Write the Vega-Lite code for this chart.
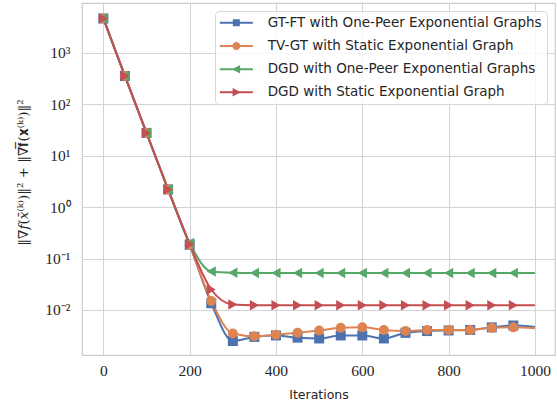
{
  "$schema": "https://vega.github.io/schema/vega-lite/v6.json",
  "width": 473,
  "height": 352,
  "autosize": {"type": "none"},
  "padding": {"left": 82, "top": 3, "right": 2, "bottom": 52},
  "background": "white",
  "config": {
    "view": {"stroke": "#cccccc", "strokeWidth": 1.2},
    "axis": {
      "grid": true, "gridColor": "#d4d4d4", "gridWidth": 1, "domain": false, "ticks": false,
      "labelColor": "#262626", "titleColor": "#262626",
      "labelFont": "Liberation Serif", "labelFontSize": 15.5
    },
    "legend": {
      "orient": "top-right", "offset": 8, "padding": 5, "cornerRadius": 4,
      "fillColor": "rgba(255,255,255,0.8)", "strokeColor": "#d6d6d6",
      "labelFont": "DejaVu Sans", "labelFontSize": 13.5, "labelColor": "#262626",
      "symbolSize": 100, "symbolOffset": 9.6, "labelOffset": 24.6, "rowPadding": 8.2, "labelLimit": 400
    }
  },
  "data": {"values": [
    {"s": "GT-FT with One-Peer Exponential Graphs", "it": 0, "v": 4600},
    {"s": "GT-FT with One-Peer Exponential Graphs", "it": 50, "v": 350},
    {"s": "GT-FT with One-Peer Exponential Graphs", "it": 100, "v": 27.5},
    {"s": "GT-FT with One-Peer Exponential Graphs", "it": 150, "v": 2.2},
    {"s": "GT-FT with One-Peer Exponential Graphs", "it": 200, "v": 0.185},
    {"s": "GT-FT with One-Peer Exponential Graphs", "it": 250, "v": 0.0135},
    {"s": "GT-FT with One-Peer Exponential Graphs", "it": 300, "v": 0.0025},
    {"s": "GT-FT with One-Peer Exponential Graphs", "it": 350, "v": 0.003},
    {"s": "GT-FT with One-Peer Exponential Graphs", "it": 400, "v": 0.0032},
    {"s": "GT-FT with One-Peer Exponential Graphs", "it": 450, "v": 0.0029},
    {"s": "GT-FT with One-Peer Exponential Graphs", "it": 500, "v": 0.0028},
    {"s": "GT-FT with One-Peer Exponential Graphs", "it": 550, "v": 0.0032},
    {"s": "GT-FT with One-Peer Exponential Graphs", "it": 600, "v": 0.0032},
    {"s": "GT-FT with One-Peer Exponential Graphs", "it": 650, "v": 0.0028},
    {"s": "GT-FT with One-Peer Exponential Graphs", "it": 700, "v": 0.0036},
    {"s": "GT-FT with One-Peer Exponential Graphs", "it": 750, "v": 0.0039},
    {"s": "GT-FT with One-Peer Exponential Graphs", "it": 800, "v": 0.004},
    {"s": "GT-FT with One-Peer Exponential Graphs", "it": 850, "v": 0.0041},
    {"s": "GT-FT with One-Peer Exponential Graphs", "it": 900, "v": 0.0046},
    {"s": "GT-FT with One-Peer Exponential Graphs", "it": 950, "v": 0.005},
    {"s": "GT-FT with One-Peer Exponential Graphs", "it": 1000, "v": 0.0047},
    {"s": "TV-GT with Static Exponential Graph", "it": 0, "v": 4600},
    {"s": "TV-GT with Static Exponential Graph", "it": 50, "v": 350},
    {"s": "TV-GT with Static Exponential Graph", "it": 100, "v": 27.5},
    {"s": "TV-GT with Static Exponential Graph", "it": 150, "v": 2.2},
    {"s": "TV-GT with Static Exponential Graph", "it": 200, "v": 0.185},
    {"s": "TV-GT with Static Exponential Graph", "it": 250, "v": 0.015},
    {"s": "TV-GT with Static Exponential Graph", "it": 300, "v": 0.0035},
    {"s": "TV-GT with Static Exponential Graph", "it": 350, "v": 0.0031},
    {"s": "TV-GT with Static Exponential Graph", "it": 400, "v": 0.0033},
    {"s": "TV-GT with Static Exponential Graph", "it": 450, "v": 0.0036},
    {"s": "TV-GT with Static Exponential Graph", "it": 500, "v": 0.004},
    {"s": "TV-GT with Static Exponential Graph", "it": 550, "v": 0.0045},
    {"s": "TV-GT with Static Exponential Graph", "it": 600, "v": 0.0046},
    {"s": "TV-GT with Static Exponential Graph", "it": 650, "v": 0.0041},
    {"s": "TV-GT with Static Exponential Graph", "it": 700, "v": 0.0039},
    {"s": "TV-GT with Static Exponential Graph", "it": 750, "v": 0.0041},
    {"s": "TV-GT with Static Exponential Graph", "it": 800, "v": 0.0041},
    {"s": "TV-GT with Static Exponential Graph", "it": 850, "v": 0.0041},
    {"s": "TV-GT with Static Exponential Graph", "it": 900, "v": 0.0045},
    {"s": "TV-GT with Static Exponential Graph", "it": 950, "v": 0.0046},
    {"s": "TV-GT with Static Exponential Graph", "it": 1000, "v": 0.0044},
    {"s": "DGD with One-Peer Exponential Graphs", "it": 0, "v": 4600},
    {"s": "DGD with One-Peer Exponential Graphs", "it": 50, "v": 350},
    {"s": "DGD with One-Peer Exponential Graphs", "it": 100, "v": 27.5},
    {"s": "DGD with One-Peer Exponential Graphs", "it": 150, "v": 2.2},
    {"s": "DGD with One-Peer Exponential Graphs", "it": 200, "v": 0.2},
    {"s": "DGD with One-Peer Exponential Graphs", "it": 250, "v": 0.056},
    {"s": "DGD with One-Peer Exponential Graphs", "it": 300, "v": 0.053},
    {"s": "DGD with One-Peer Exponential Graphs", "it": 350, "v": 0.0525},
    {"s": "DGD with One-Peer Exponential Graphs", "it": 400, "v": 0.0525},
    {"s": "DGD with One-Peer Exponential Graphs", "it": 450, "v": 0.0525},
    {"s": "DGD with One-Peer Exponential Graphs", "it": 500, "v": 0.0525},
    {"s": "DGD with One-Peer Exponential Graphs", "it": 550, "v": 0.0525},
    {"s": "DGD with One-Peer Exponential Graphs", "it": 600, "v": 0.0525},
    {"s": "DGD with One-Peer Exponential Graphs", "it": 650, "v": 0.0525},
    {"s": "DGD with One-Peer Exponential Graphs", "it": 700, "v": 0.0525},
    {"s": "DGD with One-Peer Exponential Graphs", "it": 750, "v": 0.0525},
    {"s": "DGD with One-Peer Exponential Graphs", "it": 800, "v": 0.0525},
    {"s": "DGD with One-Peer Exponential Graphs", "it": 850, "v": 0.0525},
    {"s": "DGD with One-Peer Exponential Graphs", "it": 900, "v": 0.0525},
    {"s": "DGD with One-Peer Exponential Graphs", "it": 950, "v": 0.0525},
    {"s": "DGD with One-Peer Exponential Graphs", "it": 1000, "v": 0.0525},
    {"s": "DGD with Static Exponential Graph", "it": 0, "v": 4600},
    {"s": "DGD with Static Exponential Graph", "it": 50, "v": 350},
    {"s": "DGD with Static Exponential Graph", "it": 100, "v": 27.5},
    {"s": "DGD with Static Exponential Graph", "it": 150, "v": 2.2},
    {"s": "DGD with Static Exponential Graph", "it": 200, "v": 0.19},
    {"s": "DGD with Static Exponential Graph", "it": 250, "v": 0.025},
    {"s": "DGD with Static Exponential Graph", "it": 300, "v": 0.0128},
    {"s": "DGD with Static Exponential Graph", "it": 350, "v": 0.0124},
    {"s": "DGD with Static Exponential Graph", "it": 400, "v": 0.0124},
    {"s": "DGD with Static Exponential Graph", "it": 450, "v": 0.0124},
    {"s": "DGD with Static Exponential Graph", "it": 500, "v": 0.0124},
    {"s": "DGD with Static Exponential Graph", "it": 550, "v": 0.0124},
    {"s": "DGD with Static Exponential Graph", "it": 600, "v": 0.0124},
    {"s": "DGD with Static Exponential Graph", "it": 650, "v": 0.0124},
    {"s": "DGD with Static Exponential Graph", "it": 700, "v": 0.0124},
    {"s": "DGD with Static Exponential Graph", "it": 750, "v": 0.0124},
    {"s": "DGD with Static Exponential Graph", "it": 800, "v": 0.0124},
    {"s": "DGD with Static Exponential Graph", "it": 850, "v": 0.0124},
    {"s": "DGD with Static Exponential Graph", "it": 900, "v": 0.0124},
    {"s": "DGD with Static Exponential Graph", "it": 950, "v": 0.0124},
    {"s": "DGD with Static Exponential Graph", "it": 1000, "v": 0.0124}
  ]},
  "encoding": {
    "x": {
      "field": "it", "type": "quantitative",
      "scale": {"domain": [-49.5, 1046.5], "nice": false, "zero": false},
      "axis": {"values": [0, 200, 400, 600, 800, 1000], "format": "d", "title": "Iterations",
        "titleFont": "DejaVu Sans", "titleFontSize": 12.5, "titleFontWeight": "normal",
        "labelPadding": 8, "titlePadding": 10}
    },
    "y": {
      "field": "v", "type": "quantitative",
      "scale": {"type": "log", "domain": [0.001336, 9183], "nice": false},
      "axis": {"values": [0.01, 0.1, 1, 10, 100, 1000],
        "labelExpr": "['10⁻²','10⁻¹','10⁰','10¹','10²','10³'][round(log(datum.value)/LN10)+2]",
        "labelPadding": 12,
        "title": "‖∇𝑓(𝑥̄⁽ᵏ⁾)‖² + ‖∇̅𝐟̅(𝐱⁽ᵏ⁾)‖²",
        "titleFont": "DejaVu Serif", "titleFontSize": 13.5, "titleFontWeight": "normal",
        "titleX": -52, "titleY": 169}
    },
    "color": {
      "field": "s", "type": "nominal",
      "scale": {
        "domain": ["GT-FT with One-Peer Exponential Graphs", "TV-GT with Static Exponential Graph", "DGD with One-Peer Exponential Graphs", "DGD with Static Exponential Graph"],
        "range": ["#4c72b0", "#dd8452", "#55a868", "#c44e52"]
      },
      "legend": {
        "title": null,
        "encode": {
          "symbols": {
            "update": {
              "shape": {"signal": "['M-3.3,-0.2H3.3V0.2H-3.3ZM-0.7,-0.7H0.7V0.7H-0.7Z','M-3.3,-0.2H3.3V0.2H-3.3ZM0.8,0A0.8,0.8,0,1,1,-0.8,0A0.8,0.8,0,1,1,0.8,0Z','M-3.3,-0.2H3.3V0.2H-3.3ZM-0.9,0L0.75,-0.85L0.75,0.85Z','M-3.3,-0.2H3.3V0.2H-3.3ZM0.9,0L-0.75,0.85L-0.75,-0.85Z'][datum.index]"},
              "fill": {"scale": "color", "field": "value"},
              "strokeWidth": {"value": 0},
              "opacity": {"value": 1}
            }
          }
        }
      }
    }
  },
  "layer": [
    {"mark": {"type": "line", "interpolate": "monotone", "strokeWidth": 2}},
    {
      "transform": [{"filter": "datum.it < 1000 && datum.s == 'GT-FT with One-Peer Exponential Graphs'"}],
      "mark": {"type": "point", "filled": true, "opacity": 1, "size": 100, "shape": "square"}
    },
    {
      "transform": [{"filter": "datum.it < 1000 && datum.s == 'TV-GT with Static Exponential Graph'"}],
      "mark": {"type": "point", "filled": true, "opacity": 1, "size": 100, "shape": "circle"}
    },
    {
      "transform": [{"filter": "datum.it < 1000 && datum.s == 'DGD with One-Peer Exponential Graphs'"}],
      "mark": {"type": "point", "filled": true, "opacity": 1, "size": 110, "shape": "triangle-left"}
    },
    {
      "transform": [{"filter": "datum.it < 1000 && datum.s == 'DGD with Static Exponential Graph'"}],
      "mark": {"type": "point", "filled": true, "opacity": 1, "size": 110, "shape": "triangle-right"}
    }
  ]
}
